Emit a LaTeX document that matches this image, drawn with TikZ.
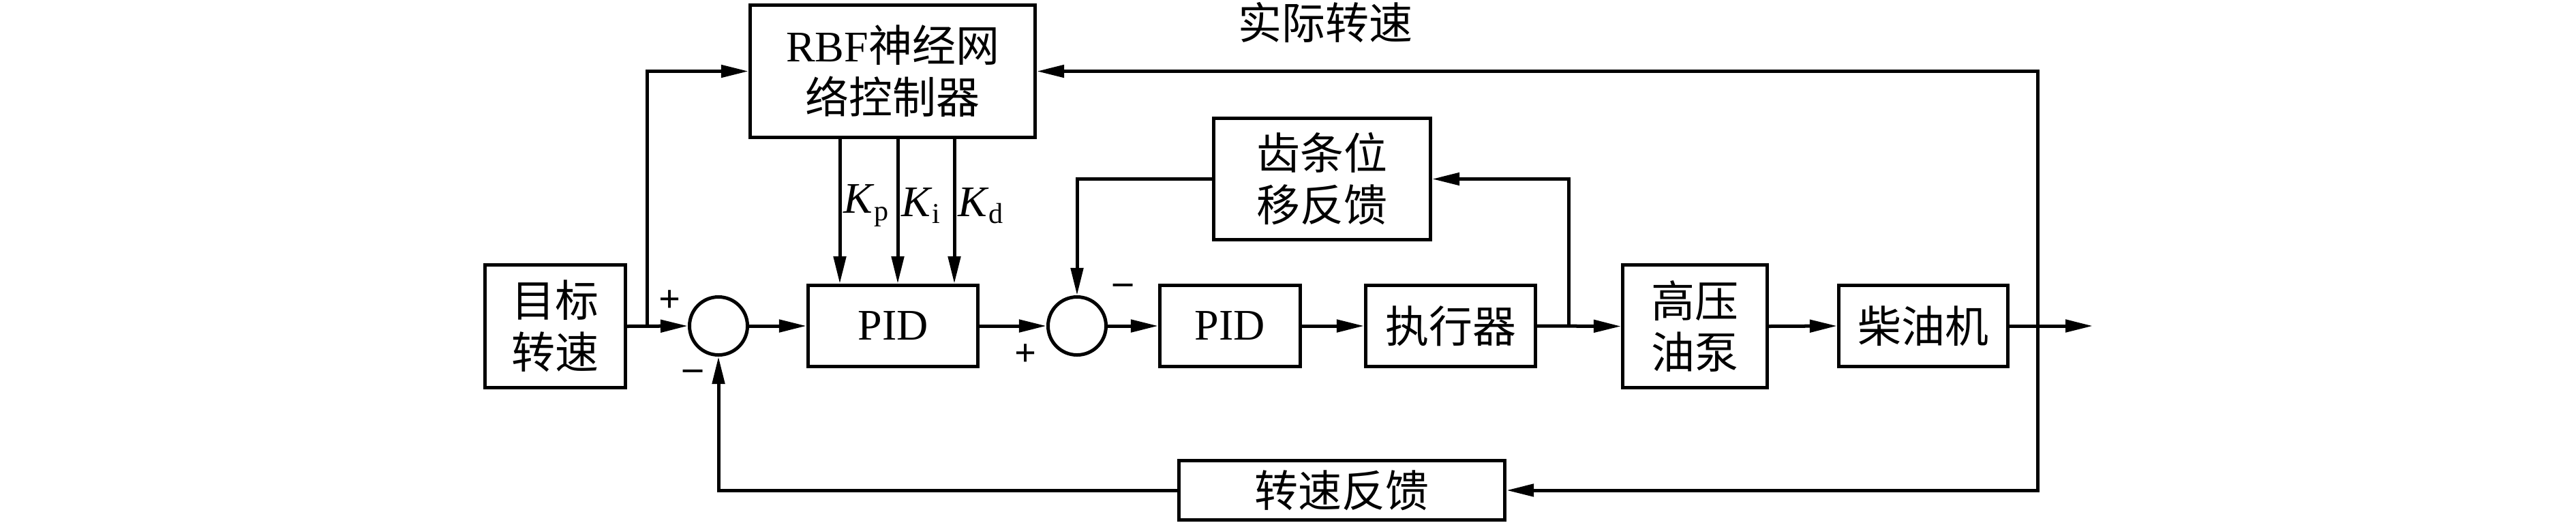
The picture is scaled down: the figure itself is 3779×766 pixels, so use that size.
\documentclass[tikz,border=0pt]{standalone}
\usepackage{fontspec}
\setmainfont{Liberation Serif}
\newfontfamily\cjk{Noto Sans CJK SC}
\usetikzlibrary{arrows.meta}

\newcommand{\gain}[1]{\textit{K}\raisebox{-3pt}{\fontsize{12}{14}\selectfont #1}}

\tikzset{
  blk/.style={draw, line width=0.05cm, inner sep=0pt, align=center,
    font=\fontsize{18.2}{21.6}\selectfont},
  sumc/.style={draw, circle, line width=0.05cm, minimum size=0.85cm, inner sep=0pt},
  sgn/.style={inner sep=0pt, font=\fontsize{16}{18}\selectfont\bfseries},
}

\begin{document}
\begin{tikzpicture}[x=0.01cm, y=-0.01cm, line width=0.05cm,
    >={Triangle[length=0.4cm,width=0.18cm]}]
            \useasboundingbox (0,0) rectangle (3779,766);
            % blocks
            \node[blk, minimum width=2.06cm, minimum height=1.80cm] (target) at (814.5,478.5) {{\cjk 目标}\\{\cjk 转速}};
            \node[sumc] (sum1) at (1054,478) {};
            \node[blk, minimum width=4.18cm, minimum height=1.94cm] (rbf) at (1309.5,104.5) {RBF{\cjk 神经网}\\{\cjk 络控制器}};
            \node[blk, minimum width=2.49cm, minimum height=1.19cm] (pid1) at (1310,478) {PID};
            \node[sumc] (sum2) at (1580,478) {};
            \node[blk, minimum width=2.06cm, minimum height=1.19cm] (pid2) at (1804.5,478) {PID};
            \node[blk, minimum width=2.49cm, minimum height=1.19cm] (act) at (2128,478) {\cjk 执行器};
            \node[blk, minimum width=2.12cm, minimum height=1.80cm] (pump) at (2486.5,478.5) {{\cjk 高压}\\{\cjk 油泵}};
            \node[blk, minimum width=2.48cm, minimum height=1.19cm] (engine) at (2821.5,478) {\cjk 柴油机};
            \node[blk, minimum width=3.18cm, minimum height=1.78cm] (rack) at (1939.5,262.5) {{\cjk 齿条位}\\{\cjk 移反馈}};
            \node[blk, minimum width=4.78cm, minimum height=0.87cm] (spdfb) at (1968.5,719) {\cjk 转速反馈};
            \node[blk, draw=none] (speed) at (1944,33) {\cjk 实际转速};
            % signs
            \node[sgn] (plus1) at (983,442) {+};
            \node[sgn] (minus1) at (1017,550) {–};
            \node[sgn] (plus2) at (1505,521) {+};
            \node[sgn] (minus2) at (1648,424) {–};
            % branch points
            \coordinate (br1) at (949,478);
            \coordinate (br2) at (2301,478);
            \coordinate (br3) at (2989,478);
            \coordinate (out) at (3070,478);
            % forward path
            \draw[->] (target.east) -- (sum1.west);
            \draw[->] (sum1.east) -- (pid1.west);
            \draw[->] (pid1.east) -- (sum2.west);
            \draw[->] (sum2.east) -- (pid2.west);
            \draw[->] (pid2.east) -- (act.west);
            \draw[->] (act.east) -- (pump.west);
            \draw[->] (pump.east) -- (engine.west);
            \draw[->] (engine.east) -- (out);
            % gains
            \foreach \x/\k in {1232/p,1317/i,1400/d}
                \draw[->] (\x,0 |- rbf.south) -- (\x,0 |- pid1.north)
                    node[pos=0.46, right, inner sep=0.03cm, font=\fontsize{18.2}{21.6}\selectfont] {\gain{\k}};
            % feedback paths
            \draw[->] (br1) |- (rbf.west);
            \draw[->] (br2) |- (rack.east);
            \draw[->] (rack.west) -| (sum2.north);
            \draw[->] (br3) |- (rbf.east);
            \draw[->] (br3) |- (spdfb.east);
            \draw[->] (spdfb.west) -| (sum1.south);
\end{tikzpicture}
\end{document}
